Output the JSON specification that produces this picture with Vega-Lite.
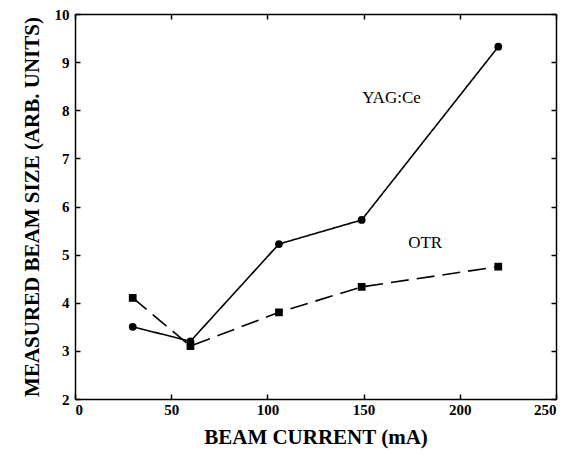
{
  "$schema": "https://vega.github.io/schema/vega-lite/v6.json",
  "width": 481,
  "height": 385,
  "autosize": "none",
  "padding": {"left": 75, "top": 14, "right": 13, "bottom": 59},
  "background": "white",
  "config": {
    "view": {"stroke": null},
    "axis": {
      "labelFont": "Liberation Serif",
      "titleFont": "Liberation Serif",
      "labelFontWeight": "bold",
      "titleFontWeight": "bold",
      "labelFontSize": 15,
      "titleFontSize": 21,
      "labelColor": "black",
      "titleColor": "black",
      "domainColor": "black",
      "tickColor": "black",
      "domainWidth": 1.5,
      "tickWidth": 1.5,
      "grid": false
    }
  },
  "datasets": {
    "pts": [
      {"series": "YAG:Ce", "current": 30, "size": 3.5},
      {"series": "YAG:Ce", "current": 60, "size": 3.2},
      {"series": "YAG:Ce", "current": 106, "size": 5.22},
      {"series": "YAG:Ce", "current": 149, "size": 5.72},
      {"series": "YAG:Ce", "current": 220, "size": 9.32},
      {"series": "OTR", "current": 30, "size": 4.1},
      {"series": "OTR", "current": 60, "size": 3.1},
      {"series": "OTR", "current": 106, "size": 3.8},
      {"series": "OTR", "current": 149, "size": 4.33},
      {"series": "OTR", "current": 220, "size": 4.75}
    ],
    "labels": [
      {"label": "YAG:Ce", "current": 164.5, "size": 8.26},
      {"label": "OTR", "current": 182, "size": 5.24}
    ]
  },
  "layer": [
    {
      "data": {"name": "pts"},
      "mark": {"type": "line", "color": "black", "strokeWidth": 1.6},
      "encoding": {
        "x": {"field": "current", "type": "quantitative", "scale": {"domain": [0, 250], "nice": false},
          "axis": {"orient": "bottom", "values": [0, 50, 100, 150, 200, 250], "tickSize": -5, "labelPadding": 8, "title": "BEAM CURRENT (mA)", "titlePadding": 9}},
        "y": {"field": "size", "type": "quantitative", "scale": {"domain": [2, 10], "nice": false, "zero": false},
          "axis": {"orient": "left", "values": [2, 3, 4, 5, 6, 7, 8, 9, 10], "tickSize": -5, "labelPadding": 11, "title": "MEASURED BEAM SIZE (ARB. UNITS)", "titlePadding": 12}},
        "strokeDash": {"field": "series", "type": "nominal", "scale": {"domain": ["YAG:Ce", "OTR"], "range": [[1, 0], [18, 8]]}, "legend": null},
        "detail": {"field": "series"}
      }
    },
    {
      "data": {"name": "pts"},
      "mark": {"type": "point", "filled": true, "color": "black", "opacity": 1, "size": 60},
      "encoding": {
        "x": {"field": "current", "type": "quantitative", "axis": null},
        "y": {"field": "size", "type": "quantitative", "axis": null},
        "shape": {"field": "series", "type": "nominal", "scale": {"domain": ["YAG:Ce", "OTR"], "range": ["circle", "square"]}, "legend": null}
      }
    },
    {
      "data": {"name": "labels"},
      "mark": {"type": "text", "font": "Liberation Serif", "fontSize": 17, "color": "black", "align": "center", "baseline": "middle"},
      "encoding": {
        "x": {"field": "current", "type": "quantitative", "axis": null},
        "y": {"field": "size", "type": "quantitative", "axis": null},
        "text": {"field": "label"}
      }
    },
    {
      "data": {"name": "pts"},
      "mark": {"type": "point", "opacity": 0},
      "encoding": {
        "x": {"field": "current", "type": "quantitative",
          "axis": {"orient": "top", "values": [0, 50, 100, 150, 200, 250], "tickSize": -5, "labels": false, "title": null}},
        "y": {"field": "size", "type": "quantitative",
          "axis": {"orient": "right", "values": [2, 3, 4, 5, 6, 7, 8, 9, 10], "tickSize": -5, "labels": false, "title": null}}
      }
    }
  ],
  "resolve": {"axis": {"x": "independent", "y": "independent"}}
}
